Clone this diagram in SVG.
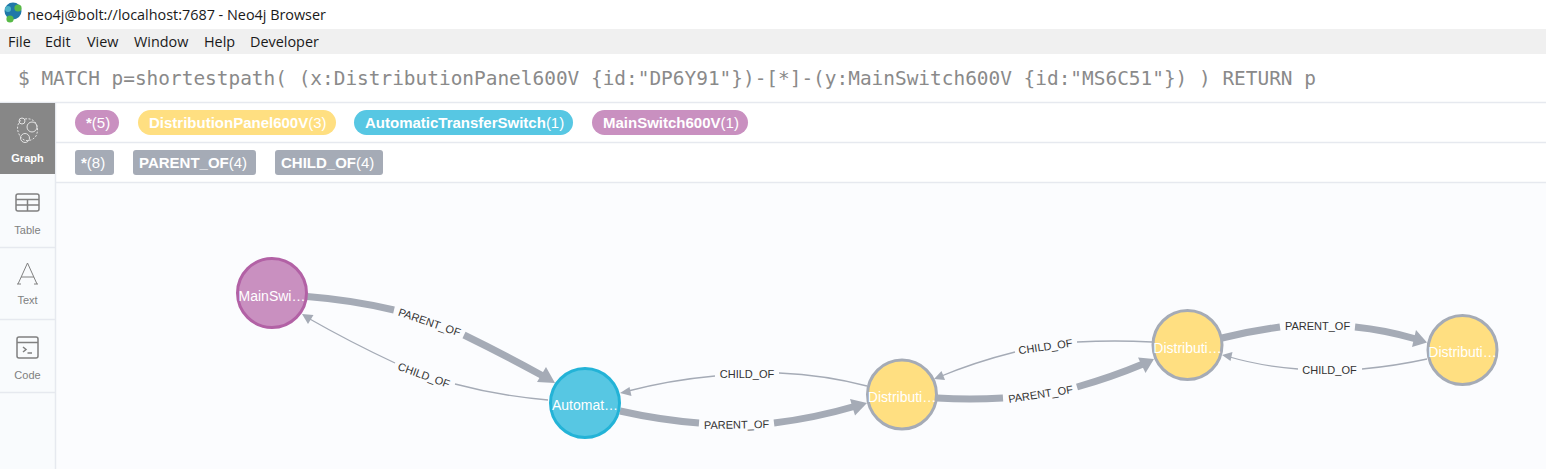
<svg xmlns="http://www.w3.org/2000/svg" width="1546" height="469" viewBox="0 0 1546 469">
<style>
.ui{font-family:"Open Sans","Noto Sans",sans-serif;font-size:14.4px;fill:#1a1a1a}
.q{font-family:"DejaVu Sans Mono","Liberation Mono",monospace;font-size:19.43px;fill:#8a8a8a}
.chip{font-family:"Liberation Sans",Arial,sans-serif;font-size:15px;font-weight:700;fill:#fff}
.chip tspan{font-weight:400}
.side{font-family:"Liberation Sans",Arial,sans-serif;font-size:11px;fill:#808080;text-anchor:middle}
.ic{fill:none;stroke:#808080;stroke-width:1.5}
.sep{stroke:#e6e9ef;stroke-width:1.5}
.thick{fill:none;stroke:#a5abb6;stroke-width:7}
.thin{fill:none;stroke:#a5abb6;stroke-width:1.3}
.head{fill:#a5abb6}
.lbl{font-family:"Liberation Sans",Arial,sans-serif;font-size:11px;fill:#333;text-anchor:middle}
.nt{font-family:"Liberation Sans",Arial,sans-serif;font-size:14px;fill:#fff;text-anchor:middle}
.n{stroke-width:3}
</style>
<rect width="1546" height="469" fill="#fbfcfe"/>
<rect width="1546" height="29" fill="#fff"/>
<rect y="29" width="1546" height="25" fill="#f0f0f0"/>
<rect y="54" width="1546" height="128" fill="#fff"/>
<rect y="102" width="55" height="367" fill="#f9fbfd"/>
<circle cx="13" cy="11" r="8.5" fill="#1f78a8"/><circle cx="8" cy="9" r="3" fill="#4fb3c8"/><circle cx="18" cy="8" r="3.6" fill="#58b947"/><circle cx="10" cy="19" r="3.6" fill="#58b947"/>
<text class="ui" x="27" y="20">neo4j@bolt://localhost:7687 - Neo4j Browser</text>
<text class="ui" x="8" y="47">File</text><text class="ui" x="45" y="47">Edit</text><text class="ui" x="87" y="47">View</text><text class="ui" x="134" y="47">Window</text><text class="ui" x="204" y="47">Help</text><text class="ui" x="250" y="47">Developer</text>
<text class="q" x="18" y="85">$ MATCH p=shortestpath( (x:DistributionPanel600V {id:"DP6Y91"})-[*]-(y:MainSwitch600V {id:"MS6C51"}) ) RETURN p</text>
<g>
<line class="sep" x1="0" y1="102.500" x2="1546" y2="102.500"/><line class="sep" x1="55" y1="142.500" x2="1546" y2="142.500"/><line class="sep" x1="55" y1="182.500" x2="1546" y2="182.500"/>
<line class="sep" x1="55.500" y1="102" x2="55.500" y2="469"/><line class="sep" x1="0" y1="247.500" x2="55" y2="247.500"/><line class="sep" x1="0" y1="319.500" x2="55" y2="319.500"/><line class="sep" x1="0" y1="392.500" x2="55" y2="392.500"/>
</g>
<g id="sidebar">
<rect y="103" width="55" height="71" fill="#878787"/>
<g fill="none" stroke="#e4e4e4" stroke-width="1"><circle cx="32" cy="127" r="5"/><circle cx="25" cy="138" r="4.500"/><circle cx="22" cy="121" r="3"/><path d="M25 119C36 117 40 128 36 136C32 142 22 143 19 134C16 128 18 123 21 120" stroke-dasharray="2 1.500"/></g>
<text class="side" x="27.500" y="162" style="fill:#fff;font-weight:700">Graph</text>
<rect class="ic" x="16" y="194" width="23" height="17" rx="2"/><path class="ic" d="M16 199.500H39M16 205H39M27.500 199.500V211"/>
<text class="side" x="27.500" y="234">Table</text>
<path d="M18 284L27.500 263L37 284M21 277H34M17 284H21M34 284H38" fill="none" stroke="#808080"/>
<text class="side" x="27.500" y="304">Text</text>
<rect class="ic" x="17" y="337" width="21" height="21" rx="2"/><path class="ic" d="M17 342.500H38M23 347L26 349.500L23 352M27.500 353H32"/>
<text class="side" x="27.500" y="379">Code</text>
</g>
<g id="chips">
<rect x="75" y="110" width="44" height="25" rx="12.500" fill="#c990c0"/><text class="chip" x="86" y="128">*<tspan>(5)</tspan></text>
<rect x="138" y="110" width="198" height="25" rx="12.500" fill="#ffdf81"/><text class="chip" x="149" y="128">DistributionPanel600V<tspan>(3)</tspan></text>
<rect x="354" y="110" width="219" height="25" rx="12.500" fill="#57c7e3"/><text class="chip" x="365" y="128">AutomaticTransferSwitch<tspan>(1)</tspan></text>
<rect x="592" y="110" width="156" height="25" rx="12.500" fill="#c990c0"/><text class="chip" x="603" y="128">MainSwitch600V<tspan>(1)</tspan></text>
<rect x="75" y="150" width="39" height="25" rx="3" fill="#a5abb6"/><text class="chip" x="81" y="168">*<tspan>(8)</tspan></text>
<rect x="133" y="150" width="123" height="25" rx="3" fill="#a5abb6"/><text class="chip" x="139" y="168">PARENT_OF<tspan>(4)</tspan></text>
<rect x="275" y="150" width="108" height="25" rx="3" fill="#a5abb6"/><text class="chip" x="281" y="168">CHILD_OF<tspan>(4)</tspan></text>
</g>
<g id="connectors">
<path class="thick" d="M307 296.500Q352 300 394 310"/><path class="thick" d="M464 335Q505 355 543 376"/><path class="head" d="M555 383L537 382L546 367Z"/>
<path class="thin" d="M548 400Q500 396 455 384"/><path class="thin" d="M395 363Q350 342 308 318"/><path class="head" d="M302 314L313.500 315L308 324Z"/>
<path class="thick" d="M620 411Q660 420 699 423"/><path class="thick" d="M774 423Q815 418 856 406"/><path class="head" d="M867 403L855 415.500L850 399Z"/>
<path class="thin" d="M867 386Q825 375 779 373"/><path class="thin" d="M715 376Q670 380 626 391.500"/><path class="head" d="M620 393L629.500 387L631.500 396Z"/>
<path class="thick" d="M937 398Q970 400 1003 398"/><path class="thick" d="M1077 387Q1112 377 1143 364"/><path class="head" d="M1154 359L1145.500 373L1138 357.500Z"/>
<path class="thin" d="M1152 342Q1115 340 1077 342"/><path class="thin" d="M1015 352Q975 362 939 377"/><path class="head" d="M934 379L941.500 371L945 380Z"/>
<path class="thick" d="M1222 338Q1250 331 1280 327"/><path class="thick" d="M1355 327Q1385 330 1416 339"/><path class="head" d="M1427 342.500L1412 347L1416 330Z"/>
<path class="thin" d="M1427 359Q1395 366 1362 369"/><path class="thin" d="M1298 369Q1260 366 1228 356.500"/><path class="head" d="M1222 355L1232.500 352L1230.500 361Z"/>
<text class="lbl" transform="translate(429.500 322) rotate(19)" y="4">PARENT_OF</text>
<text class="lbl" transform="translate(424 375) rotate(20)" y="4">CHILD_OF</text>
<text class="lbl" transform="translate(736.500 424.500) rotate(-1)" y="4">PARENT_OF</text>
<text class="lbl" transform="translate(747 374)" y="4">CHILD_OF</text>
<text class="lbl" transform="translate(1040.500 394) rotate(-9)" y="4">PARENT_OF</text>
<text class="lbl" transform="translate(1045.500 346.500) rotate(-8)" y="4">CHILD_OF</text>
<text class="lbl" transform="translate(1317.500 325.500)" y="4">PARENT_OF</text>
<text class="lbl" transform="translate(1329.500 370)" y="4">CHILD_OF</text>
</g>
<g id="node-main"><circle class="n" cx="272" cy="293" r="34.500" fill="#c990c0" stroke="#b261a5"/><text class="nt" x="272" y="301">MainSwi…</text></g>
<g id="node-ats"><circle class="n" cx="585" cy="403" r="34.500" fill="#57c7e3" stroke="#23b3d7"/><text class="nt" x="585" y="410">Automat…</text></g>
<g id="node-dp1"><circle class="n" cx="902" cy="394.500" r="34.500" fill="#ffdf81" stroke="#a5abb6"/><text class="nt" x="902" y="402">Distributi…</text></g>
<g id="node-dp2"><circle class="n" cx="1187.500" cy="345" r="34.500" fill="#ffdf81" stroke="#a5abb6"/><text class="nt" x="1187.500" y="353">Distributi…</text></g>
<g id="node-dp3"><circle class="n" cx="1462.500" cy="350" r="34.500" fill="#ffdf81" stroke="#a5abb6"/><text class="nt" x="1462.500" y="357">Distributi…</text></g>
</svg>
